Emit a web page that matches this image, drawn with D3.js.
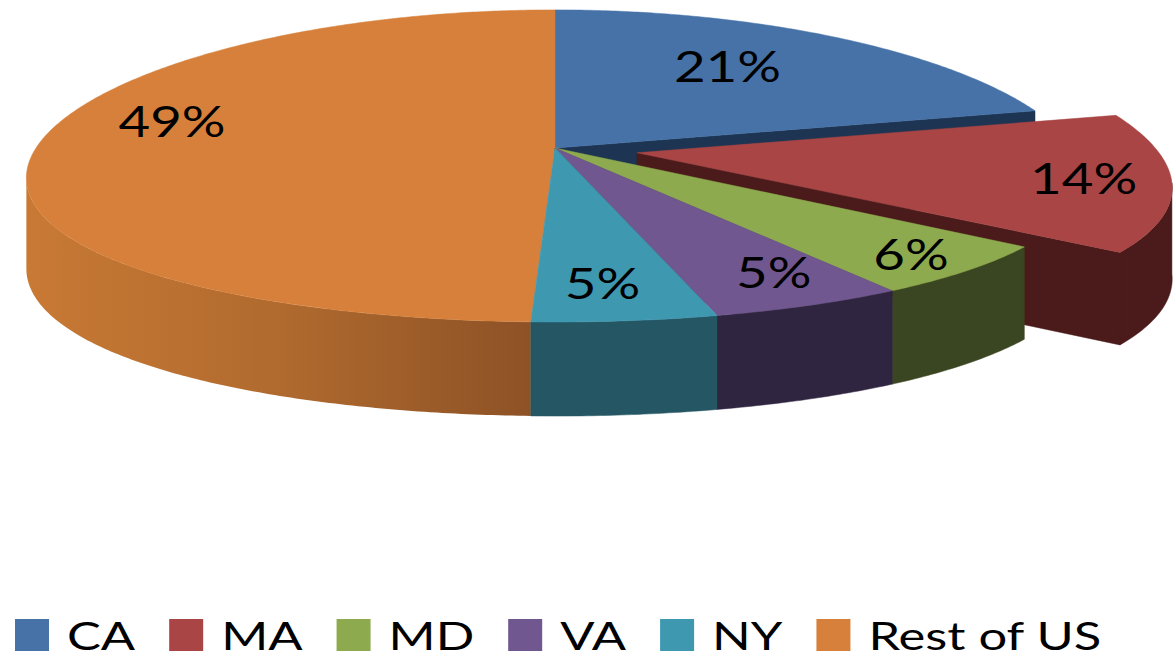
<!DOCTYPE html>
<html>
<head>
<meta charset="utf-8">
<script src="https://cdn.jsdelivr.net/npm/d3@7"></script>
<style>
  body { margin: 0; background: #fff; }
  text { font-family: Lato, "Open Sans", sans-serif; fill: #000; }
</style>
</head>
<body>
<div id="chart"></div>
<script>
// data (shares, labels as printed)
var categories = ["CA", "MA", "MD", "VA", "NY", "Rest of US"];
var shares = [21, 14.2, 5.6, 5.1, 4.7, 49.4];
var pctLabels = ["21%", "14%", "6%", "5%", "5%", "49%"];
var exploded = [0, 1, 0, 0, 0, 0];

// colours (top face / side face)
var topColors = ["#4672a8", "#a94544", "#8daa4e", "#71578f", "#3e98b0", "#d6803b"];
var sideColors = ["#1d3553", "#4a1b1a", "#3a4521", "#2f2540", "#245664", "#a8642c"];
// label placement: radius fraction and vertical nudge
var labelRadius = [0.59, 0.84, 0.88, 0.88, 0.72, 0.74];
var labelDy = [-13, 0, 0, -12, 16, -24];

var width = 1173, height = 662;

// 3d projection of the pie disk (a: angle clockwise from back, r: radius fraction, h: 0 top / 1 bottom)
var cx = 555, cy = 148, kx = 519, ky = 154, px = 0.19, py = 0.115, depth = 90, explode = 0.16;
function project(a, r, h, off) {
  var X = Math.sin(a) * r + off[0],
      Z = -Math.cos(a) * r + off[1];
  return [cx + kx * X / (1 - px * Z),
          cy + ky * Z / (1 - py * Z) + h * depth * (1 + 0.045 * Z)];
}
function rim(a0, a1, h, off) {
  var n = Math.max(2, Math.ceil((a1 - a0) / 0.01));
  return d3.range(n + 1).map(function(i) { return project(a0 + (a1 - a0) * i / n, 1, h, off); });
}

var svg = d3.select("#chart")
  .append("svg")
    .attr("width", width)
    .attr("height", height);

var defs = svg.append("defs");
var grad = defs.append("linearGradient")
    .attr("id", "restSide")
    .attr("gradientUnits", "userSpaceOnUse")
    .attr("x1", 20).attr("x2", 540).attr("y1", 0).attr("y2", 0);
grad.append("stop").attr("offset", 0).attr("stop-color", "#c97a35");
grad.append("stop").attr("offset", 0.5).attr("stop-color", "#b06a2e");
grad.append("stop").attr("offset", 1).attr("stop-color", "#8c5126");

var pie = d3.pie().sort(null).value(function(d) { return d; });
var arcs = pie(shares).map(function(d, i) {
  var mid = (d.startAngle + d.endAngle) / 2;
  d.i = i;
  d.mid = mid;
  d.off = exploded[i] ? [Math.sin(mid) * explode, -Math.cos(mid) * explode] : [0, 0];
  return d;
});

var line = d3.line().curve(d3.curveLinearClosed);
var aR = Math.acos(-px), aL = 2 * Math.PI - aR;  // silhouette angles of the side wall

// back to front
var order = arcs.slice().sort(function(a, b) {
  return (-Math.cos(a.mid) + a.off[1]) - (-Math.cos(b.mid) + b.off[1]);
});

var g = svg.append("g");
order.forEach(function(d) {
  var i = d.i, off = d.off;
  var prevExp = exploded[(i + categories.length - 1) % categories.length],
      nextExp = exploded[(i + 1) % categories.length];
  var cut = exploded[i] || prevExp || nextExp;

  // outer wall
  var w0 = Math.max(d.startAngle, aR), w1 = Math.min(d.endAngle, aL);
  if (w1 > w0) {
    var pts = rim(w0, w1, 0, off).concat(rim(w0, w1, 1, off).reverse());
    g.append("path")
      .attr("d", line(pts))
      .attr("fill", i === 5 ? "url(#restSide)" : sideColors[i])
      .attr("stroke", i === 5 ? "none" : sideColors[i])
      .attr("stroke-width", 0.5);
  }
  // cut faces exposed by the exploded slice
  if (cut) {
    [[d.endAngle, Math.sin(d.endAngle) > 0], [d.startAngle, Math.sin(d.startAngle) < 0]].forEach(function(e) {
      if (!e[1]) return;
      var pts = [project(0, 0, 0, off), project(e[0], 1, 0, off), project(e[0], 1, 1, off), project(0, 0, 1, off)];
      g.append("path")
        .attr("d", line(pts))
        .attr("fill", sideColors[i])
        .attr("stroke", sideColors[i])
        .attr("stroke-width", 0.5);
    });
  }
  // top face
  var top = [project(0, 0, 0, off)].concat(rim(d.startAngle, d.endAngle, 0, off));
  g.append("path")
    .attr("d", line(top))
    .attr("fill", topColors[i])
    .attr("stroke", topColors[i])
    .attr("stroke-width", 0.5);
});

// data labels
var stretch = 1.3;
svg.append("g")
  .selectAll("text")
  .data(arcs)
  .enter()
  .append("text")
    .attr("transform", function(d) {
      var p = project(d.mid, labelRadius[d.i], 0, d.off);
      return "translate(" + p[0] + "," + (p[1] + labelDy[d.i]) + ") scale(" + stretch + ",1)";
    })
    .attr("text-anchor", "middle")
    .attr("dy", "0.36em")
    .style("font-size", "42px")
    .text(function(d) { return pctLabels[d.i]; });

// legend
var legend = svg.append("g").attr("transform", "translate(15,619)");
var lx = 0;
categories.forEach(function(c, i) {
  legend.append("rect")
    .attr("x", lx).attr("y", 0)
    .attr("width", 34).attr("height", 32)
    .attr("fill", topColors[i]);
  var t = legend.append("text")
    .attr("transform", "translate(" + (lx + 52) + ",31) scale(" + stretch + ",1)")
    .style("font-size", "39px")
    .text(c);
  lx += 52 + t.node().getComputedTextLength() * stretch + 34;
});
</script>
</body>
</html>
